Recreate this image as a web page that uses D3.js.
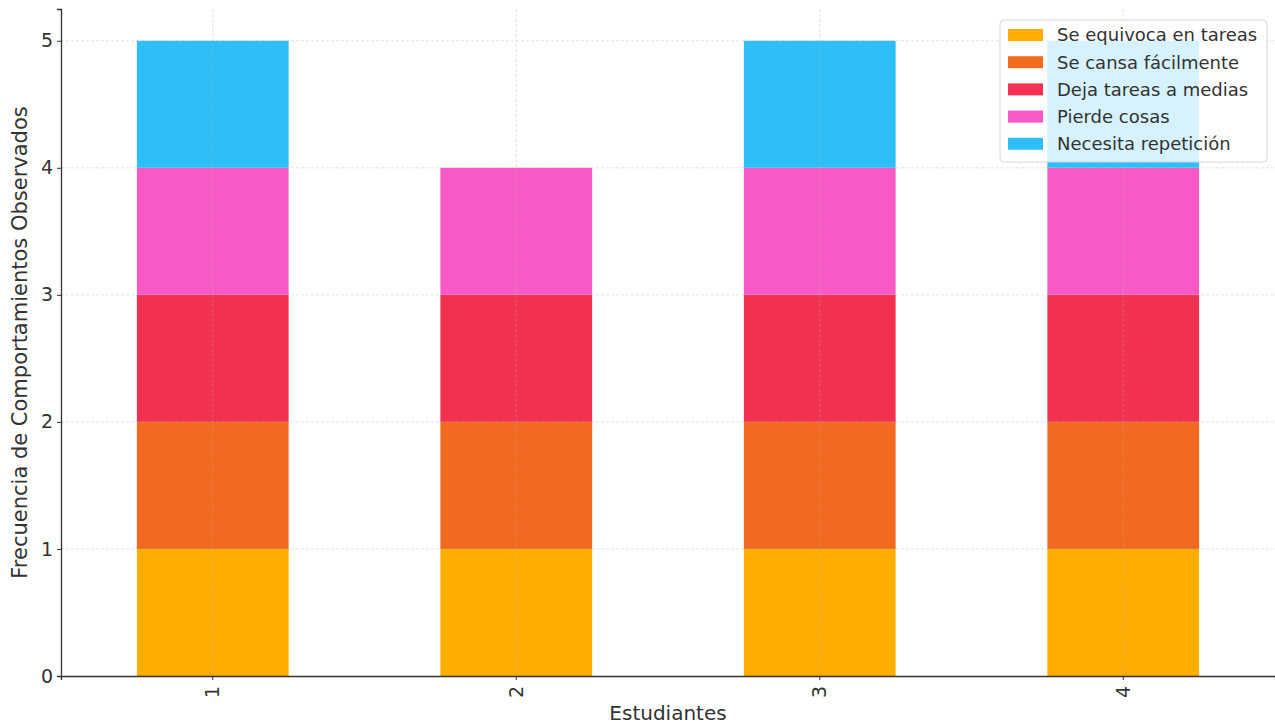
<!DOCTYPE html>
<html>
<head>
<meta charset="utf-8">
<script src="https://cdn.jsdelivr.net/npm/d3@7"></script>
<style>
  body { margin: 0; background: #fff; }
  text { font-family: "DejaVu Sans", sans-serif; }
</style>
</head>
<body>
<div id="chart"></div>
<script>
// Chart data
const students = ["1", "2", "3", "4"];
const behaviours = ["Se equivoca en tareas", "Se cansa fácilmente", "Deja tareas a medias", "Pierde cosas", "Necesita repetición"];
const colors = ["#ffae00", "#f26a20", "#f2304f", "#f859c4", "#2ebff9"];
// one array per behaviour, values per student
const seEquivoca = [1, 1, 1, 1];
const seCansa = [1, 1, 1, 1];
const dejaTareas = [1, 1, 1, 1];
const pierdeCosas = [1, 1, 1, 1];
const necesitaRep = [1, 0, 1, 1];
const yTicks = [0, 1, 2, 3, 4, 5];

const width = 1275, height = 724;
const margin = { top: 9, left: 61, right: 0, bottom: 48 };

const svg = d3.select('#chart').append('svg')
  .attr('width', width)
  .attr('height', height);

const series = [seEquivoca, seCansa, dejaTareas, pierdeCosas, necesitaRep];
const table = students.map((s, i) => {
  const row = { student: s };
  behaviours.forEach((b, j) => { row[b] = series[j][i]; });
  return row;
});
const stacked = d3.stack().keys(behaviours)(table);

const x = d3.scaleBand()
  .domain(students)
  .range([margin.left, width - margin.right])
  .paddingInner(0.5)
  .paddingOuter(0.25);

const y = d3.scaleLinear()
  .domain([0, 5.25])
  .range([height - margin.bottom, margin.top]);

// bars
svg.append('g')
  .selectAll('g')
  .data(stacked)
  .join('g')
  .attr('fill', (d, i) => colors[i])
  .selectAll('rect')
  .data(d => d)
  .join('rect')
  .attr('x', d => x(d.data.student))
  .attr('width', x.bandwidth())
  .attr('y', d => y(d[1]))
  .attr('height', d => y(d[0]) - y(d[1]));

// grid (drawn over the bars, like the original)
const grid = svg.append('g')
  .attr('stroke', '#b0b0b0')
  .attr('stroke-opacity', 0.45)
  .attr('stroke-width', 0.8)
  .attr('stroke-dasharray', '3,2');
grid.selectAll('.hg')
  .data(yTicks.slice(1))
  .join('line')
  .attr('x1', margin.left)
  .attr('x2', width - margin.right)
  .attr('y1', d => y(d))
  .attr('y2', d => y(d));
grid.selectAll('.vg')
  .data(students)
  .join('line')
  .attr('x1', d => x(d) + x.bandwidth() / 2)
  .attr('x2', d => x(d) + x.bandwidth() / 2)
  .attr('y1', margin.top)
  .attr('y2', height - margin.bottom);

// axes
const yAxis = svg.append('g')
  .attr('transform', `translate(${margin.left},0)`)
  .call(d3.axisLeft(y).tickValues(yTicks).tickFormat(d3.format('d')).tickSize(4).tickPadding(4));
const xAxis = svg.append('g')
  .attr('transform', `translate(0,${height - margin.bottom})`)
  .call(d3.axisBottom(x).tickSize(4).tickPadding(6));

[yAxis, xAxis].forEach(ax => {
  ax.select('.domain').attr('stroke', '#333').attr('stroke-width', 1.3);
  ax.selectAll('.tick line').attr('stroke', '#333');
  ax.selectAll('.tick text')
    .style('font-size', '19px')
    .attr('fill', '#333');
});

xAxis.selectAll('.tick text')
  .attr('transform', 'rotate(-90)')
  .attr('text-anchor', 'end')
  .attr('dy', '0.35em')
  .attr('x', -10)
  .attr('y', 0);

// axis titles
svg.append('text')
  .attr('x', (margin.left + width - margin.right) / 2)
  .attr('y', 720)
  .attr('text-anchor', 'middle')
  .style('font-size', '20px')
  .attr('fill', '#333')
  .text('Estudiantes');

svg.append('text')
  .attr('transform', `translate(27, ${(margin.top + height - margin.bottom) / 2}) rotate(-90)`)
  .attr('text-anchor', 'middle')
  .style('font-size', '21px')
  .attr('fill', '#333')
  .text('Frecuencia de Comportamientos Observados');

// legend
const legend = svg.append('g')
  .attr('transform', 'translate(1000, 20)');

legend.append('rect')
  .attr('width', 267)
  .attr('height', 142)
  .attr('rx', 4)
  .attr('fill', 'rgba(255,255,255,0.8)')
  .attr('stroke', '#d6d6d6');

const items = legend.selectAll('.legend-item')
  .data(behaviours)
  .join('g')
  .attr('class', 'legend-item')
  .attr('transform', (d, i) => `translate(0, ${15 + i * 27.2})`);

items.append('rect')
  .attr('x', 8)
  .attr('y', -6)
  .attr('width', 35)
  .attr('height', 12)
  .attr('fill', (d, i) => colors[i]);

items.append('text')
  .attr('x', 57)
  .attr('y', 0)
  .attr('dy', '0.35em')
  .style('font-size', '18px')
  .attr('fill', '#333')
  .text(d => d);
</script>
</body>
</html>
